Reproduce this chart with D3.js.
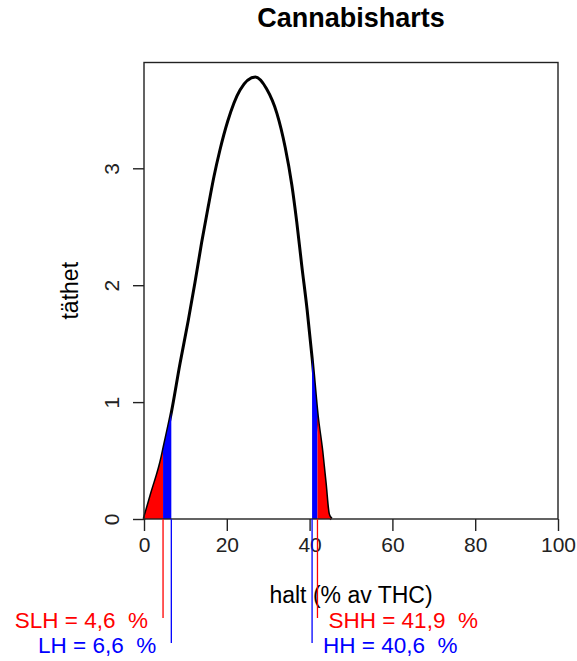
<!DOCTYPE html>
<meta charset="utf-8">

<!-- Load d3.js -->
<script src="https://d3js.org/d3.v7.min.js"></script>

<style>
  body { margin: 0; background: #fff; }
  text { font-family: Arial, "Liberation Sans", sans-serif; white-space: pre; }
</style>

<!-- Create an element where the chart will take place -->
<svg id="my_dataviz" width="577" height="661"></svg>

<script>

// Density curve (x in % THC, y = density)
var halt   = [0, 1.8, 4.3, 4.6, 6.6, 8.7, 10.7, 12.3, 13.9, 15.5, 16.9, 18.3, 20.2, 23.2, 26.9, 29.6, 32.1, 34.1, 35.7, 36.9, 38.1, 39.4, 40.6, 41.9, 43.0, 43.8, 44.6, 45.3];
var tathet = [0, 0.22, 0.53, 0.58, 0.91, 1.33, 1.70, 2.02, 2.36, 2.67, 2.93, 3.15, 3.40, 3.67, 3.78, 3.68, 3.47, 3.18, 2.86, 2.54, 2.17, 1.79, 1.38, 0.88, 0.58, 0.31, 0.04, 0];

// Limits shown under the axis
var limitNames  = ["SLH", "LH", "HH", "SHH"];
var limitValues = [4.6, 6.6, 40.6, 41.9];
var limitColors = ["red", "blue", "blue", "red"];

// Tick labels
var xTicks = [0, 20, 40, 60, 80, 100];
var yTicks = [0, 1, 2, 3];

// The svg
var svg = d3.select("svg");

var pLeft = 144, pRight = 558, pTop = 62.5, pBottom = 519;

var x = d3.scaleLinear().domain([0, 100]).range([pLeft, pRight]);
var y = d3.scaleLinear().domain([0, 3.905]).range([pBottom, pTop]);

var points = halt.map(function(h, i){ return {x: h, y: tathet[i]}; });

// Title
svg.append("text")
  .attr("x", (pLeft + pRight) / 2)
  .attr("y", 27)
  .attr("text-anchor", "middle")
  .style("font-size", "27px")
  .style("font-weight", "bold")
  .text("Cannabisharts");

// Density curve
var line = d3.line()
  .curve(d3.curveMonotoneX)
  .x(function(d){ return x(d.x); })
  .y(function(d){ return y(d.y); });

svg.append("path")
  .datum(points)
  .attr("d", line)
  .attr("fill", "none")
  .attr("stroke", "black")
  .attr("stroke-width", 3)
  .attr("stroke-linejoin", "round");

// Shaded tails
var area = d3.area()
  .curve(d3.curveMonotoneX)
  .x(function(d){ return x(d.x); })
  .y0(y(0))
  .y1(function(d){ return y(d.y); });

var bands = [
  {from: 0,              to: limitValues[0], color: "red"},
  {from: limitValues[0], to: limitValues[1], color: "blue"},
  {from: limitValues[2], to: limitValues[3], color: "blue"},
  {from: limitValues[3], to: 100,            color: "red"}
];

svg.append("g")
  .selectAll("path")
  .data(bands)
  .enter()
  .append("path")
    .attr("d", function(b){
      return area(points.filter(function(p){ return p.x >= b.from && p.x <= b.to; }));
    })
    .attr("fill", function(b){ return b.color; });

// Box
svg.append("rect")
  .attr("x", pLeft)
  .attr("y", pTop)
  .attr("width", pRight - pLeft)
  .attr("height", pBottom - pTop)
  .attr("fill", "none")
  .attr("stroke", "#222")
  .attr("stroke-width", 1.4);

// X axis
var xAxis = svg.append("g")
  .attr("transform", "translate(0," + pBottom + ")")
  .call(d3.axisBottom(x).tickValues(xTicks).tickSize(12).tickPadding(6).tickFormat(d3.format("d")));
xAxis.select(".domain").remove();
xAxis.selectAll("line").attr("stroke", "#222").attr("stroke-width", 1.4);
xAxis.selectAll("text").style("font-size", "21px").attr("fill", "#222")
  .style("font-family", "Arial, 'Liberation Sans', sans-serif");

// Y axis (labels rotated like R)
var yAxis = svg.append("g")
  .attr("transform", "translate(" + pLeft + ",0)")
  .call(d3.axisLeft(y).tickValues(yTicks).tickSize(11).tickFormat(d3.format("d")));
yAxis.select(".domain").remove();
yAxis.selectAll("line").attr("stroke", "#222").attr("stroke-width", 1.4);
yAxis.selectAll("text")
  .attr("x", null).attr("dy", null)
  .attr("transform", "translate(-25,0) rotate(-90)")
  .attr("text-anchor", "middle")
  .style("font-size", "21px").attr("fill", "#222")
  .style("font-family", "Arial, 'Liberation Sans', sans-serif");

// Axis titles
svg.append("text")
  .attr("x", (pLeft + pRight) / 2)
  .attr("y", 603)
  .attr("text-anchor", "middle")
  .style("font-size", "23px")
  .text("halt (% av THC)");

svg.append("text")
  .attr("transform", "translate(78," + ((pTop + pBottom) / 2) + ") rotate(-90)")
  .attr("text-anchor", "middle")
  .style("font-size", "23px")
  .text("täthet");

// Limit lines and labels below the axis
var limits = limitNames.map(function(n, i){
  return {name: n, value: limitValues[i], color: limitColors[i], low: i < 2, outer: (i === 0 || i === 3)};
});

svg.append("g")
  .selectAll("line")
  .data(limits)
  .enter()
  .append("line")
    .attr("x1", function(d){ return x(d.value); })
    .attr("x2", function(d){ return x(d.value); })
    .attr("y1", pBottom)
    .attr("y2", function(d){ return d.outer ? 618 : 643; })
    .attr("stroke", function(d){ return d.color; })
    .attr("stroke-width", 1.3);

svg.append("g")
  .selectAll("text")
  .data(limits)
  .enter()
  .append("text")
    .attr("x", function(d){ return d.low ? x(d.value) - 15 : x(d.value) + 11; })
    .attr("y", function(d){ return d.outer ? 628 : 653; })
    .attr("text-anchor", function(d){ return d.low ? "end" : "start"; })
    .attr("fill", function(d){ return d.color; })
    .style("font-size", "22.5px")
    .text(function(d){ return d.name + " = " + String(d.value).replace(".", ",") + "  %"; });

</script>
